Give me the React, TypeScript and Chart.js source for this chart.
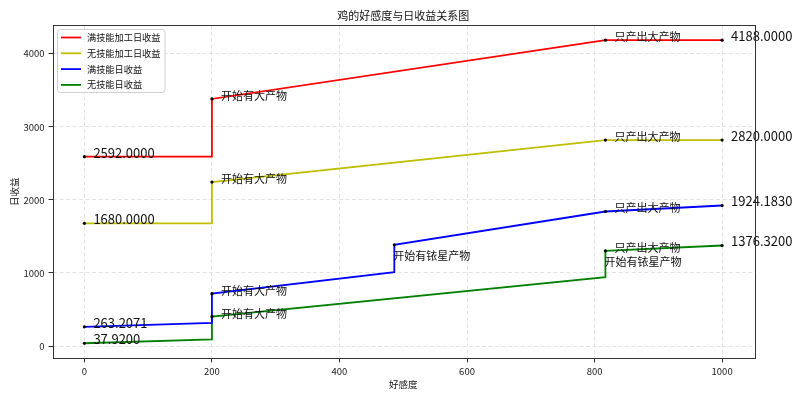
import { useEffect, useRef } from "react";
import { Chart, registerables } from "chart.js";

Chart.register(...registerables);

const chartTitle = "鸡的好感度与日收益关系图";
const xTitle = "好感度";
const yTitle = "日收益";
const xTicks = [0, 200, 400, 600, 800, 1000];
const yTicks = [0, 1000, 2000, 3000, 4000];
const xRange = [-50, 1050];
const yRange = [-169.6, 4395.5];

const seriesNames = ["满技能加工日收益", "无技能加工日收益", "满技能日收益", "无技能日收益"];
const seriesColors = ["#ff0000", "#bfbf00", "#0000ff", "#008000"];

const redX = [0, 200, 200, 817, 1000];
const redY = [2592, 2592, 3383, 4188, 4188];
const yellowX = [0, 200, 200, 817, 1000];
const yellowY = [1680, 1680, 2245, 2820, 2820];
const blueX = [0, 200, 200, 486, 486, 817, 1000];
const blueY = [263.2071, 318, 717, 1010, 1385, 1842, 1924.183];
const greenX = [0, 200, 200, 817, 817, 1000];
const greenY = [37.92, 92, 402, 942, 1303, 1376.32];

// "#" means: show the point's value with 4 decimals; null means no note
const redRight = ["#", null, "开始有大产物", "只产出大产物", "#"];
const redBelow = [null, null, null, null, null];
const yellowRight = ["#", null, "开始有大产物", "只产出大产物", "#"];
const yellowBelow = [null, null, null, null, null];
const blueRight = ["#", null, "开始有大产物", null, null, "只产出大产物", "#"];
const blueBelow = [null, null, null, null, "开始有铱星产物", null, null];
const greenRight = ["#", null, "开始有大产物", null, "只产出大产物", "#"];
const greenBelow = [null, null, null, null, "开始有铱星产物", null];

const allX = [redX, yellowX, blueX, greenX];
const allY = [redY, yellowY, blueY, greenY];
const allRight = [redRight, yellowRight, blueRight, greenRight];
const allBelow = [redBelow, yellowBelow, blueBelow, greenBelow];

const FONT = "'Noto Sans CJK SC', 'Noto Sans', sans-serif";

const decorPlugin = {
  id: "decor",
  afterDatasetsDraw(chart: any) {
    const { ctx, scales } = chart;
    const xs = scales.x;
    const ys = scales.y;
    ctx.save();
    for (let s = 0; s < allX.length; s++) {
      const X = allX[s];
      const Y = allY[s];
      for (let i = 0; i < X.length; i++) {
        const r = allRight[s][i];
        const b = allBelow[s][i];
        if (r == null && b == null) continue;
        const px = xs.getPixelForValue(X[i]);
        const py = ys.getPixelForValue(Y[i]);
        ctx.fillStyle = "#000";
        ctx.beginPath();
        ctx.arc(px, py, 1.6, 0, Math.PI * 2);
        ctx.fill();
        ctx.fillStyle = "#111";
        ctx.textAlign = "left";
        ctx.textBaseline = "alphabetic";
        if (r != null) {
          if (r === "#") {
            ctx.font = `13px ${FONT}`;
            ctx.fillText(Y[i].toFixed(4), px + 9, py + 1);
          } else {
            ctx.font = `11px ${FONT}`;
            ctx.fillText(r, px + 9, py + 1);
          }
        }
        if (b != null) {
          ctx.font = `11px ${FONT}`;
          ctx.fillText(b, px - 1, py + 15);
        }
      }
    }
    ctx.restore();
  },
  afterDraw(chart: any) {
    const { ctx, chartArea } = chart;
    const { left, right, top, bottom } = chartArea;
    ctx.save();
    // frame
    ctx.strokeStyle = "#333";
    ctx.lineWidth = 1;
    ctx.strokeRect(Math.round(left) + 0.5, Math.round(top) + 0.5, Math.round(right - left), Math.round(bottom - top));
    // title
    ctx.fillStyle = "#111";
    ctx.textAlign = "center";
    ctx.textBaseline = "middle";
    ctx.font = `11px ${FONT}`;
    ctx.fillText(chartTitle, (left + right) / 2, 16);
    ctx.font = `9.5px ${FONT}`;
    ctx.fillText(xTitle, (left + right) / 2, 384);
    ctx.save();
    ctx.translate(14, (top + bottom) / 2);
    ctx.rotate(-Math.PI / 2);
    ctx.fillText(yTitle, 0, 0);
    ctx.restore();
    // legend
    const bx = 57.5, by = 29.5, bw = 107.5, bh = 63;
    ctx.fillStyle = "rgba(255,255,255,0.85)";
    ctx.strokeStyle = "#d0d0d0";
    ctx.lineWidth = 1;
    ctx.beginPath();
    ctx.roundRect(bx, by, bw, bh, 3);
    ctx.fill();
    ctx.stroke();
    ctx.font = `9.2px ${FONT}`;
    ctx.textAlign = "left";
    ctx.textBaseline = "middle";
    for (let i = 0; i < seriesNames.length; i++) {
      const yy = 37.5 + i * 15.8;
      ctx.strokeStyle = seriesColors[i];
      ctx.lineWidth = 1.8;
      ctx.beginPath();
      ctx.moveTo(61, yy);
      ctx.lineTo(81, yy);
      ctx.stroke();
      ctx.fillStyle = "#111";
      ctx.fillText(seriesNames[i], 87, yy);
    }
    ctx.restore();
  },
};

export default function App() {
  const ref = useRef<HTMLCanvasElement | null>(null);
  useEffect(() => {
    document.body.style.margin = "0";
    if (!ref.current) return;
    const datasets = seriesNames.map((name, s) => ({
      label: name,
      data: allX[s].map((x, i) => ({ x, y: allY[s][i] })),
      borderColor: seriesColors[s],
      backgroundColor: seriesColors[s],
      borderWidth: 1.8,
      pointRadius: 0,
      tension: 0,
      fill: false,
    }));
    const gridOpts = {
      color: "#dcdcdc",
      lineWidth: 0.8,
      drawTicks: true,
      tickLength: 4,
      tickColor: "#333",
      tickWidth: 1,
      tickBorderDash: [],
    };
    const chart = new Chart(ref.current, {
      type: "line",
      data: { datasets },
      plugins: [decorPlugin],
      options: {
        animation: false,
        responsive: false,
        devicePixelRatio: 1,
        layout: { padding: { left: 0, right: 46, top: 25, bottom: 0 } },
        plugins: { legend: { display: false }, tooltip: { enabled: false }, title: { display: false } },
        scales: {
          x: {
            type: "linear",
            min: xRange[0],
            max: xRange[1],
            afterBuildTicks: (axis: any) => {
              axis.ticks = xTicks.map((v) => ({ value: v }));
            },
            afterFit: (axis: any) => {
              axis.height = 41.6;
            },
            grid: gridOpts,
            border: { display: false, dash: [4, 2.5] },
            ticks: {
              padding: 3,
              maxRotation: 0,
              autoSkip: false,
              color: "#222",
              font: { size: 9.5, family: FONT },
              callback: (v: any) => String(v),
            },
          },
          y: {
            type: "linear",
            min: yRange[0],
            max: yRange[1],
            afterBuildTicks: (axis: any) => {
              axis.ticks = yTicks.map((v) => ({ value: v }));
            },
            afterFit: (axis: any) => {
              axis.width = 52.5;
            },
            grid: gridOpts,
            border: { display: false, dash: [4, 2.5] },
            ticks: {
              padding: 4,
              autoSkip: false,
              color: "#222",
              font: { size: 9.5, family: FONT },
              callback: (v: any) => String(v),
            },
          },
        },
      },
    });
    return () => chart.destroy();
  }, []);
  return (
    <div style={{ position: "fixed", left: 0, top: 0, width: 800, height: 400, background: "#fff" }}>
      <canvas ref={ref} width={800} height={400} style={{ width: 800, height: 400 }} />
    </div>
  );
}
